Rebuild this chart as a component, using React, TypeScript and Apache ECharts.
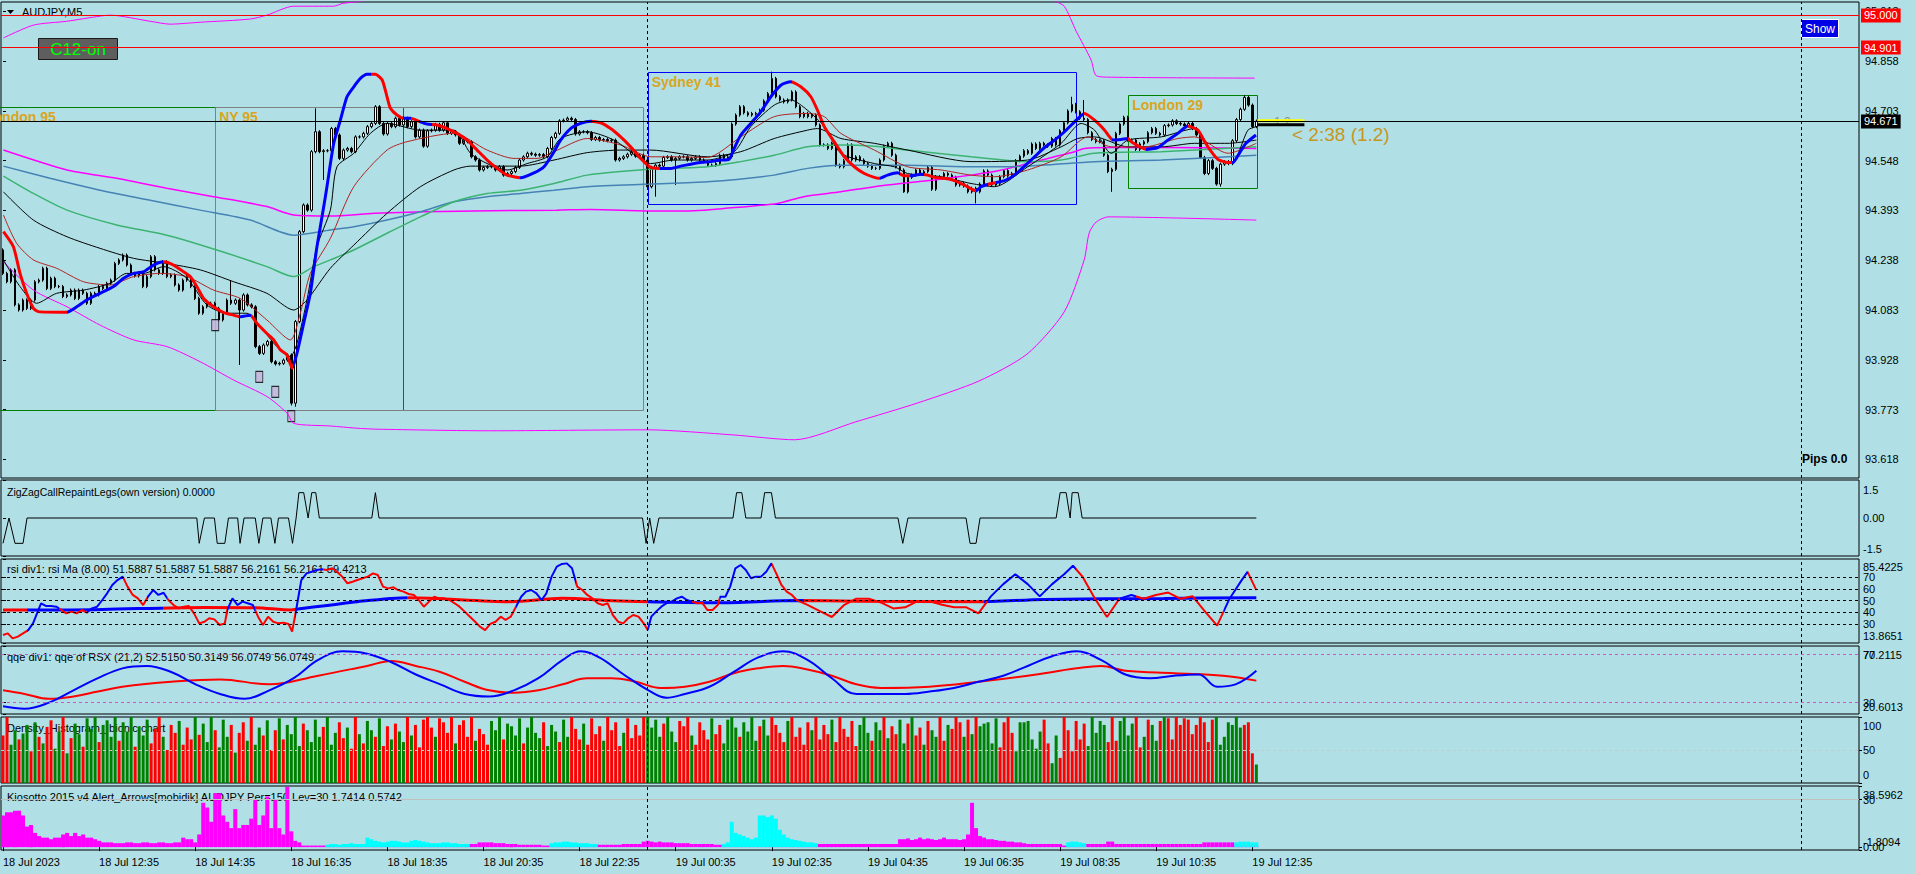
import React, { useEffect, useRef } from "react";
import * as echarts from "echarts";

const FONT = "'Liberation Sans', Arial, sans-serif";
const BG = "#B0E0E6";
const N_SLOTS = 464;
const RED = "#FF0000";
const BLUE = "#0000FF";

const timeLabels = ["18 Jul 2023", "18 Jul 12:35", "18 Jul 14:35", "18 Jul 16:35", "18 Jul 18:35", "18 Jul 20:35", "18 Jul 22:35", "19 Jul 00:35", "19 Jul 02:35", "19 Jul 04:35", "19 Jul 06:35", "19 Jul 08:35", "19 Jul 10:35", "19 Jul 12:35"];
const barsPerLabel = 24;
const daySeparators = [161, 449];
const priceTicks = [93.618, 93.773, 93.928, 94.083, 94.238, 94.393, 94.548, 94.703, 94.858, 95.013];

const firstOpen = 94.27;
const closes = [
  94.197, 94.171, 94.208, 94.099, 94.083, 94.114, 94.088, 94.114, 94.171, 94.176,
  94.213, 94.150, 94.182, 94.156, 94.156, 94.125, 94.130, 94.145, 94.119, 94.145,
  94.135, 94.104, 94.135, 94.130, 94.156, 94.150, 94.166, 94.176, 94.228, 94.239,
  94.254, 94.223, 94.197, 94.189, 94.199, 94.156, 94.187, 94.249, 94.208, 94.197,
  94.233, 94.187, 94.192, 94.161, 94.145, 94.176, 94.187, 94.156, 94.119, 94.073,
  94.093, 94.104, 94.104, 94.088, 94.052, 94.073, 94.114, 94.104, 94.114, 94.083,
  94.130, 94.099, 94.093, 93.969, 93.948, 93.974, 93.985, 93.922, 93.915, 93.917,
  93.927, 93.943, 93.793, 94.047, 94.327, 94.410, 94.394, 94.576, 94.638, 94.576,
  94.579, 94.579, 94.648, 94.628, 94.555, 94.581, 94.586, 94.576, 94.622, 94.622,
  94.633, 94.654, 94.664, 94.716, 94.664, 94.631, 94.664, 94.654, 94.680, 94.659,
  94.680, 94.654, 94.669, 94.622, 94.643, 94.593, 94.641, 94.643, 94.661, 94.643,
  94.666, 94.633, 94.638, 94.628, 94.602, 94.612, 94.607, 94.560, 94.550, 94.519,
  94.527, 94.529, 94.529, 94.519, 94.529, 94.503, 94.508, 94.514, 94.527, 94.550,
  94.560, 94.571, 94.568, 94.565, 94.567, 94.560, 94.586, 94.620, 94.633, 94.672,
  94.674, 94.680, 94.676, 94.631, 94.638, 94.638, 94.635, 94.614, 94.620, 94.612,
  94.614, 94.610, 94.612, 94.550, 94.555, 94.560, 94.568, 94.576, 94.562, 94.565,
  94.550, 94.467, 94.527, 94.534, 94.531, 94.558, 94.560, 94.550, 94.555, 94.560,
  94.560, 94.550, 94.555, 94.560, 94.550, 94.545, 94.534, 94.534, 94.539, 94.565,
  94.555, 94.560, 94.662, 94.690, 94.716, 94.697, 94.690, 94.695, 94.693, 94.705,
  94.734, 94.757, 94.804, 94.747, 94.737, 94.731, 94.737, 94.762, 94.716, 94.685,
  94.695, 94.685, 94.690, 94.659, 94.597, 94.597, 94.586, 94.602, 94.534, 94.529,
  94.548, 94.597, 94.550, 94.560, 94.550, 94.539, 94.531, 94.524, 94.524, 94.550,
  94.593, 94.602, 94.565, 94.529, 94.519, 94.451, 94.496, 94.503, 94.519, 94.508,
  94.514, 94.527, 94.459, 94.498, 94.498, 94.508, 94.503, 94.496, 94.472, 94.477,
  94.469, 94.451, 94.462, 94.451, 94.475, 94.516, 94.503, 94.472, 94.477, 94.498,
  94.517, 94.500, 94.508, 94.548, 94.562, 94.579, 94.571, 94.600, 94.586, 94.602,
  94.597, 94.593, 94.617, 94.597, 94.641, 94.666, 94.703, 94.723, 94.700, 94.680,
  94.676, 94.635, 94.614, 94.607, 94.610, 94.565, 94.514, 94.521, 94.633, 94.662,
  94.683, 94.612, 94.612, 94.583, 94.600, 94.607, 94.635, 94.648, 94.633, 94.628,
  94.657, 94.659, 94.672, 94.664, 94.662, 94.656, 94.664, 94.648, 94.628, 94.558,
  94.508, 94.548, 94.524, 94.475, 94.537, 94.545, 94.539, 94.610, 94.676, 94.708,
  94.745, 94.721, 94.654, 94.671,
];
// [bar, high, low] for bars with long shadows
const longShadows: [number, number | null, number | null][] = [
  [57, 94.176, null], [59, null, 93.912], [72, null, 93.786], [73, null, 93.782],
  [78, 94.711, null], [80, null, 94.488], [163, null, 94.436], [168, null, 94.472],
  [192, 94.825, null], [225, null, 94.448], [243, null, 94.415], [267, 94.747, null],
  [270, 94.737, null], [277, null, 94.451], [304, null, 94.467], [310, 94.752, null],
];
const shortShadow = 0.005;

const thickMA = [[0.1,94.327],[2.6,94.280],[4.25,94.197],[5.9,94.135],[7.6,94.088],[8.8,94.078],[15.9,94.076],[18.4,94.093],[20.9,94.114],[24.25,94.135],[27.6,94.156],[30.1,94.182],[32.6,94.197],[35.1,94.202],[37.6,94.223],[40.1,94.233],[42.6,94.223],[45.1,94.202],[46.75,94.187],[48.4,94.156],[50.1,94.119],[52.6,94.093],[55.1,94.075],[57.6,94.067],[59.25,94.062],[61.75,94.067],[63.4,94.042],[65.9,94.010],[67.6,93.990],[69.25,93.959],[70.9,93.943],[72.2,93.902],[73.4,93.948],[75.1,94.042],[76.75,94.135],[78.4,94.280],[80.1,94.405],[80.9,94.467],[82.6,94.602],[84.25,94.674],[85.9,94.747],[87.6,94.778],[89.25,94.804],[90.9,94.817],[93.0,94.817],[94.7,94.799],[95.9,94.747],[96.75,94.711],[98.4,94.690],[100.1,94.680],[101.75,94.680],[104.25,94.669],[105.9,94.662],[108.4,94.659],[110.9,94.648],[113.4,94.633],[115.9,94.612],[118.4,94.581],[120.9,94.550],[123.4,94.524],[125.9,94.503],[129.25,94.495],[132.6,94.510],[135.1,94.529],[137.6,94.576],[139.25,94.612],[141.75,94.648],[144.25,94.664],[146.75,94.671],[149.25,94.666],[151.75,94.648],[154.25,94.622],[156.75,94.591],[159.25,94.555],[161.75,94.527],[164.25,94.524],[166.75,94.524],[169.25,94.531],[171.75,94.537],[174.25,94.542],[176.75,94.545],[179.25,94.550],[181.3,94.552],[182.6,94.586],[184.25,94.628],[186.75,94.664],[189.25,94.700],[191.75,94.747],[194.25,94.783],[196.75,94.794],[199.25,94.778],[201.75,94.747],[203.4,94.705],[205.1,94.654],[206.75,94.622],[208.4,94.591],[210.1,94.560],[212.6,94.529],[215.1,94.508],[217.6,94.496],[218.8,94.493],[220.9,94.503],[223.4,94.510],[225.1,94.501],[226.75,94.501],[229.25,94.506],[230.9,94.503],[232.6,94.496],[235.1,94.493],[237.6,94.486],[240.1,94.472],[243.0,94.454],[244.25,94.467],[246.75,94.477],[250.1,94.486],[252.6,94.503],[255.1,94.531],[257.6,94.560],[260.1,94.589],[262.6,94.612],[265.1,94.638],[267.6,94.669],[270.1,94.695],[272.6,94.674],[275.1,94.643],[277.2,94.612],[279.25,94.614],[280.9,94.617],[281.75,94.607],[284.25,94.589],[285.5,94.583],[288.4,94.589],[290.9,94.612],[293.4,94.633],[295.9,94.656],[298.4,94.643],[300.1,94.607],[301.75,94.576],[303.4,94.552],[305.9,94.542],[307.1,94.542],[308.75,94.571],[310.4,94.602],[312.9,94.628]];
const thickTrend: [number, number, string][] = [[-5,16,"dn"],[16,40,"up"],[40,59,"dn"],[59,62,"up"],[62,72.5,"dn"],[72.5,92,"up"],[92,100,"dn"],[100,102,"up"],[102,104,"dn"],[104,107,"up"],[107,129,"dn"],[129,147,"up"],[147,164,"dn"],[164,197,"up"],[197,219,"dn"],[219,224,"up"],[224,226.5,"dn"],[226.5,230,"up"],[230,243,"dn"],[243,246,"up"],[246,248,"dn"],[248,270,"up"],[270,277,"dn"],[277,281,"up"],[281,285.5,"dn"],[285.5,296,"up"],[296,307,"dn"],[307,330,"up"]];

const blackFast = [[0.1,94.239],[4.25,94.156],[8.4,94.104],[13.4,94.135],[20.1,94.145],[26.75,94.166],[30.9,94.197],[35.1,94.197],[40.1,94.218],[45.9,94.182],[50.9,94.099],[55.9,94.073],[60.9,94.073],[64.25,94.031],[68.4,93.969],[71.75,93.938],[73.4,93.979],[75.9,94.114],[78.4,94.280],[81.75,94.394],[83.4,94.529],[87.6,94.571],[91.75,94.633],[95.9,94.664],[104.25,94.643],[112.6,94.643],[116.75,94.571],[120.9,94.539],[125.9,94.519],[130.9,94.539],[135.9,94.560],[139.25,94.617],[145.9,94.638],[152.6,94.612],[158.4,94.560],[161.75,94.539],[167.6,94.550],[175.9,94.550],[182.6,94.576],[186.75,94.654],[192.6,94.721],[196.75,94.737],[200.9,94.705],[205.1,94.654],[209.25,94.571],[217.6,94.539],[222.6,94.529],[225.9,94.508],[234.25,94.498],[241.75,94.477],[247.6,94.467],[255.9,94.529],[264.25,94.602],[269.25,94.664],[272.6,94.643],[276.75,94.571],[280.9,94.612],[289.25,94.622],[297.6,94.648],[302.6,94.560],[306.75,94.539],[310.9,94.643],[313,94.654]];
const darkRedMA = [[0.1,94.379],[3.4,94.291],[7.6,94.239],[13.4,94.213],[20.1,94.171],[26.75,94.161],[32.6,94.187],[39.25,94.197],[45.9,94.187],[52.6,94.145],[59.25,94.119],[65.9,94.052],[71.75,93.990],[74.25,94.073],[76.75,94.197],[81.75,94.306],[87.6,94.467],[95.9,94.581],[100.9,94.607],[112.6,94.633],[120.9,94.581],[127.6,94.555],[133.4,94.555],[137.6,94.576],[145.9,94.617],[154.25,94.597],[161.75,94.560],[167.6,94.560],[175.9,94.558],[184.25,94.622],[192.6,94.685],[200.9,94.695],[205.1,94.685],[209.25,94.633],[217.6,94.581],[225.9,94.529],[234.25,94.519],[241.75,94.503],[247.6,94.498],[255.9,94.519],[264.25,94.560],[270.9,94.622],[276.75,94.591],[285.1,94.591],[293.4,94.617],[297.6,94.622],[305.9,94.571],[313,94.602]];
const blackSlow = [[0.1,94.451],[7.6,94.363],[16,94.311],[24.25,94.275],[32.6,94.244],[40.9,94.228],[49.25,94.208],[57.6,94.171],[65.9,94.135],[72.6,94.083],[75.9,94.114],[81.75,94.213],[87.6,94.285],[95.9,94.384],[104.25,94.467],[112.6,94.519],[116.75,94.531],[129.25,94.531],[137.6,94.550],[145.9,94.573],[154.25,94.581],[161.75,94.581],[175.9,94.560],[184.25,94.576],[192.6,94.617],[200.9,94.643],[203.4,94.648],[209.25,94.617],[217.6,94.602],[225.9,94.581],[241.75,94.545],[255.9,94.550],[264.25,94.591],[268.4,94.617],[272.6,94.622],[280.9,94.591],[289.25,94.591],[297.6,94.602],[305.9,94.602],[313,94.612]];
const greenMA = [[0.1,94.500],[7.6,94.446],[16,94.394],[28.4,94.348],[40.9,94.316],[53.4,94.270],[65.9,94.218],[72.6,94.187],[77.6,94.218],[81.75,94.239],[87.6,94.270],[95.9,94.322],[104.25,94.373],[112.6,94.420],[120.9,94.446],[129.25,94.456],[137.6,94.477],[145.9,94.503],[161.75,94.521],[175.9,94.529],[184.25,94.545],[192.6,94.565],[200.9,94.591],[209.25,94.597],[217.6,94.593],[225.9,94.581],[241.75,94.560],[255.9,94.545],[264.25,94.550],[272.6,94.571],[289.25,94.576],[313,94.591]];
const steelMA = [[0.1,94.531],[11.75,94.493],[24.25,94.456],[36.75,94.425],[49.25,94.394],[61.75,94.363],[72.6,94.316],[81.75,94.332],[87.6,94.342],[95.9,94.363],[104.25,94.389],[112.6,94.420],[120.9,94.436],[129.25,94.446],[137.6,94.456],[145.9,94.467],[161.75,94.475],[175.9,94.482],[192.6,94.503],[200.9,94.524],[209.25,94.534],[225.9,94.534],[241.75,94.529],[255.9,94.531],[272.6,94.545],[289.25,94.550],[313,94.565]];
const bandMid = [[0.1,94.581],[16,94.519],[28.4,94.493],[40.9,94.462],[52.6,94.436],[65.9,94.405],[72.6,94.379],[81.75,94.376],[92.75,94.384],[105.25,94.389],[121.9,94.392],[138.25,94.394],[146.75,94.396],[162.5,94.391],[172.6,94.392],[180,94.399],[193.4,94.415],[200,94.436],[209.25,94.451],[217.6,94.467],[224.25,94.477],[232.6,94.488],[241.75,94.503],[247.6,94.514],[255.9,94.539],[262.6,94.560],[267.6,94.576],[270.1,94.586],[276.75,94.589],[289.25,94.589],[313,94.586]];
const bandUpper = [[0.1,94.930],[7.6,94.970],[15.9,94.982],[24.25,94.998],[26.75,95.001],[36.75,94.982],[41.75,94.973],[49.25,94.979],[61.75,94.989],[65.9,95.001],[72.6,95.029],[82.6,95.029],[85,95.038],[110,95.07],[160,95.10],[220,95.12],[255,95.09],[262,95.048],[265,95.029],[268,94.951],[271.75,94.861],[272.9,94.814],[275.9,94.808],[312.6,94.805]];
const bandLower = [[0.1,94.233],[7.6,94.145],[16,94.093],[24.25,94.036],[32.6,93.990],[41,93.969],[49.25,93.922],[57.6,93.865],[66,93.813],[71,93.761],[72.6,93.730],[81.75,93.722],[88.4,93.715],[93.4,93.712],[121.5,93.707],[161,93.710],[182.5,93.694],[197.75,93.679],[213,93.735],[228.5,93.794],[243.75,93.862],[255.75,93.946],[265,94.077],[270,94.239],[271.25,94.323],[273,94.357],[276,94.373],[313,94.363]];

const signalMarkers = [[53, 94.036], [64, 93.875], [68, 93.828], [72, 93.753]];

const sessions = [
  { name: "London 95", start: -5.5, end: 100, high: 94.716, low: 93.772, color: "#008000" },
  { name: "NY 95", start: 53, end: 160, high: 94.716, low: 93.772, color: "#808080" },
  { name: "Sydney 41", start: 161, end: 268, high: 94.825, low: 94.415, color: "#0000FF" },
  { name: "London 29", start: 281, end: 313.25, high: 94.751, low: 94.462, color: "#008000" },
];
const priceLines = [
  { price: 95.0, color: "#FF0000" },
  { price: 94.901, color: "#FF0000" },
  { price: 94.671, color: "#000000" },
];
const spreadLevels = [{ price: 94.672, color: "#FFFF00" }, { price: 94.660, color: "#000000" }];
const spreadFrom = 313.25, spreadTo = 325;

// ZigZag legs
const zigzag = [[0,-1],[1.5,0],[3,-1],[5,-1],[6,0],[48.4,0],[49,-1],[50.3,0],[52.8,0],[53.5,-1],[55.4,-1],[56.3,0],[58.6,0],[59.2,-1],[60.2,0],[63,0],[63.9,-1],[64.9,0],[66.9,0],[67.9,-1],[68.8,0],[71.3,0],[72.3,-1],[73.2,0],[73.9,1],[75.1,1],[76.2,0],[77.1,1],[78.1,1],[79,0],[92.1,0],[93,1],[93.9,0],[159.7,0],[160.6,-1],[161.5,0],[162.5,-1],[163.8,0],[182.3,0],[183.2,1],[184.5,1],[185.5,0],[189.3,0],[190.2,1],[191.9,1],[192.9,0],[223.5,0],[224.7,-1],[226,0],[240.5,0],[241.5,-1],[243,-1],[244,0],[263,0],[264,1],[265.5,1],[266.5,0],[267,1],[268.5,1],[269.5,0],[313,0]];

// RSI
const rsiFast = [[0,20.7],[1.2,22.1],[2.4,17.8],[3.7,19.3],[5,22.1],[6.3,24.9],[7.5,30.6],[9.5,47.7],[10.7,45.4],[12,45.4],[13.3,44.8],[14.6,42.0],[15.8,39.1],[17.1,40.6],[18.4,39.1],[19.7,42.0],[20.9,39.7],[22.2,43.4],[23.5,44.8],[24.8,50.5],[26,56.2],[27.3,63.3],[28.6,67.5],[29.9,70.4],[31.1,61.9],[32.4,54.8],[33.7,51.9],[35,46.2],[36.2,53.3],[37.5,59.0],[38.8,54.8],[40.1,56.7],[41.3,50.5],[42.6,46.2],[43.9,43.4],[45.2,44.8],[46.4,45.4],[47.7,39.1],[49,30.6],[50.3,32.0],[51.5,34.9],[52.8,34.0],[54.1,29.2],[55.4,30.6],[56,42.0],[57.3,51.9],[58.6,46.2],[59.8,49.1],[61.1,47.7],[62.4,46.2],[63.7,36.3],[64.9,29.2],[66.2,36.3],[67.5,32.0],[68.8,30.6],[70,31.2],[71.3,30.1],[72.2,23.5],[73.2,42.0],[74.5,67.5],[75.8,73.2],[77.1,74.6],[78.3,76.1],[79.6,76.6],[80.9,76.1],[82.2,77.5],[83.4,74.6],[84.7,70.4],[86,64.7],[87.3,66.1],[88.5,67.5],[89.8,69.0],[91.1,70.4],[92.4,73.2],[93.6,71.8],[94.9,61.9],[96.2,60.4],[97.5,61.3],[98.7,59.0],[100,57.6],[101.3,55.6],[102.6,54.8],[103.8,50.5],[105.1,44.8],[106.4,49.1],[107.7,53.3],[108.9,51.9],[110.2,51.9],[111.5,50.5],[112.8,47.7],[114,44.8],[115.3,40.6],[116.6,36.3],[117.9,32.0],[119.1,27.8],[120.4,24.9],[121.7,30.1],[123,32.0],[124.3,36.3],[125.5,33.5],[126.8,36.3],[128.1,44.8],[129.4,53.3],[130.6,57.6],[131.9,59.0],[133.2,56.2],[134.5,50.5],[135.7,56.2],[137,70.4],[138.3,78.9],[139.6,81.2],[140.8,81.7],[142.1,77.5],[143.4,61.9],[144.7,59.0],[145.9,54.8],[147.2,51.9],[148.5,47.7],[149.8,46.2],[151,47.7],[152.3,37.7],[153.6,32.0],[154.9,30.6],[156.1,34.9],[157.4,37.7],[158.7,36.3],[160,30.6],[161,24.9],[161.9,36.3],[163.1,40.6],[164.4,44.8],[165.7,47.7],[167,49.1],[168.3,51.9],[169.5,53.3],[170.8,50.5],[172.1,49.1],[173.4,47.7],[174.6,48.2],[175.9,42.0],[177.2,42.0],[178.5,46.2],[179.1,53.3],[180.4,53.3],[181.6,61.9],[182.9,77.5],[184.2,80.3],[185.5,76.1],[186.8,69.0],[188,70.4],[189.3,70.4],[190.6,74.6],[191.9,81.7],[193.1,73.2],[194.4,63.3],[195.7,57.6],[197,54.8],[198.2,50.5],[200.9,46.4],[204,41.1],[207,36.0],[210.1,46.4],[213.1,51.6],[216.2,51.6],[219.2,48.4],[222.3,43.3],[225.3,44.3],[228.4,49.5],[231.4,49.5],[234.5,46.4],[237.5,44.3],[240.6,44.3],[243.6,39.1],[246.7,53.6],[249.8,64.0],[252.8,72.4],[255.9,64.0],[258.9,53.6],[262,64.0],[265,72.4],[267.2,79.7],[269.6,70.3],[272.7,51.6],[275.7,36.0],[278.8,51.6],[281.8,54.7],[284.9,51.6],[287.9,54.7],[291,56.8],[294,51.6],[297.1,53.6],[300.1,41.1],[303.2,28.7],[306.3,51.6],[309.3,67.2],[310.8,74.5],[313,58.9]];
const rsiFastTrend: [number, number, string][] = [[-5,6,"dn"],[6,14,"up"],[14,21,"dn"],[21,30,"up"],[30,36,"dn"],[36,41,"up"],[41,56,"dn"],[56,63,"up"],[63,73,"dn"],[73,80,"up"],[80,128,"dn"],[128,143,"up"],[143,161,"dn"],[161,172,"up"],[172,179,"dn"],[179,192,"up"],[192,246,"dn"],[246,268,"up"],[268,279,"dn"],[279,283,"up"],[283,305,"dn"],[305,311,"up"],[311,330,"dn"]];
const rsiSlow = [[0,42.0],[12,42.0],[24.8,42.5],[50.3,44.2],[63,44.0],[72,42.0],[73.2,42.5],[88.5,49.1],[101.3,52.5],[126.8,49.1],[139.6,51.9],[152.3,49.9],[161,49.1],[178.5,48.2],[198.2,50.0],[213,49.5],[243,49.0],[260,51.0],[290,51.8],[313,52.5]];
const rsiSlowTrend: [number, number, string][] = [[-5,6,"dn"],[6,40,"up"],[40,73,"dn"],[73,101,"up"],[101,161,"dn"],[161,200,"up"],[200,245,"dn"],[245,330,"up"]];
const rsiLevels = [70, 60, 50, 40, 30];
const rsiRange = [13.8651, 85.4225];

// QQE
const qqeFast = [[0,27.0],[5.4,25.0],[11.5,30.1],[17.6,40.3],[23.7,50.4],[29.8,58.6],[35.9,60.6],[42,55.6],[48.1,45.3],[54.2,37.3],[60.3,33.2],[66.5,40.3],[72.6,50.4],[78.7,65.7],[84.8,72.8],[90.9,70.8],[97,63.7],[103.1,53.5],[109.2,45.3],[115.3,37.3],[121.4,35.2],[127.6,40.3],[133.7,50.4],[139.8,65.7],[144.3,72.8],[148.9,67.7],[155,53.5],[161.2,40.3],[165.7,34.2],[170.3,37.3],[176.4,43.3],[182.5,55.6],[188.6,67.7],[194.8,72.8],[200.9,65.7],[207,50.4],[213.1,37.3],[219.2,37.3],[225.3,37.3],[231.4,39.3],[237.5,42.3],[243.6,47.4],[249.8,52.5],[255.9,60.6],[262,68.7],[268.1,72.8],[274.2,65.7],[280.3,53.5],[286.4,50.4],[292.5,52.5],[298.6,53.5],[303.2,43.3],[307.8,45.3],[313,56.6]];
const qqeSlow = [[0,40.3],[5.4,37.3],[11.5,33.2],[17.6,35.2],[23.7,39.3],[29.8,43.3],[42,47.4],[54.2,49.4],[66.5,45.3],[78.7,52.5],[90.9,60.6],[97,64.7],[103.1,60.6],[109.2,55.6],[115.3,47.4],[121.4,40.3],[127.6,38.3],[133.7,40.3],[139.8,45.3],[145.9,50.4],[152,50.4],[158.1,47.4],[164.2,42.3],[170.3,43.3],[176.4,47.4],[182.5,54.5],[188.6,58.6],[194.8,60.6],[200.9,57.6],[207,52.5],[213.1,45.3],[219.2,42.3],[231.4,43.3],[243.6,47.4],[255.9,52.5],[268.1,58.6],[274.2,60.6],[280.3,56.6],[292.5,54.5],[304.7,52.5],[313,48.4]];
const qqeLevels = [70, 30];
const qqeRange = [20.6013, 77.2115];

// Density histogram: height (0..100) and colour (1 green, 0 red) per bar
const densityValues = [
  72, 100, 58, 80, 66, 75, 88, 48, 92, 70,
  60, 85, 95, 52, 78, 100, 45, 68, 90, 74,
  55, 98, 82, 100, 62, 88, 95, 70, 100, 64,
  92, 78, 100, 55, 86, 72, 96, 60, 82, 100,
  70, 50, 88, 76, 94, 58, 84, 66, 100, 73,
  90, 62, 100, 80, 54, 96, 70, 88, 46, 76,
  92, 64, 100, 58, 84, 72, 95, 50, 80, 98,
  66, 88, 74, 100, 56, 90, 80, 62, 96, 70,
  85, 100, 58, 76, 92, 68, 84, 52, 100, 74,
  60, 94, 80, 70, 98, 56, 86, 66, 90, 78,
  62, 100, 72, 88, 54, 96, 100, 84, 70, 98,
  92, 76, 100, 60, 88, 95, 70, 100, 64, 82,
  74, 58, 94, 80, 100, 66, 90, 86, 72, 98,
  60, 84, 100, 76, 68, 92, 56, 88, 78, 62,
  96, 70, 100, 82, 66, 90, 58, 98, 74, 86,
  64, 100, 80, 92, 56, 76, 98, 68, 88, 72,
  100, 100, 84, 96, 70, 90, 100, 78, 62, 94,
  86, 100, 72, 58, 92, 80, 66, 98, 74, 88,
  60, 96, 100, 84, 70, 92, 78, 100, 64, 86,
  96, 72, 100, 88, 76, 62, 94, 100, 70, 84,
  58, 92, 80, 100, 66, 88, 74, 96, 62, 100,
  82, 70, 94, 56, 88, 100, 76, 64, 92, 80,
  100, 68, 86, 74, 96, 60, 90, 100, 72, 84,
  58, 94, 80, 70, 100, 64, 88, 82, 100, 92,
  70, 96, 74, 100, 86, 90, 92, 60, 98, 54,
  92, 100, 76, 48, 92, 92, 94, 66, 52, 78,
  96, 60, 30, 72, 38, 100, 80, 48, 94, 66,
  90, 56, 100, 76, 94, 88, 62, 100, 64, 94,
  100, 72, 90, 100, 54, 70, 96, 88, 64, 94,
  100, 98, 66, 100, 88, 98, 96, 74, 88, 100,
  92, 62, 96, 100, 58, 70, 92, 88, 100, 84,
  88, 92, 45, 28,
];
const densityUp = [
  0, 0, 1, 1, 0, 1, 1, 0, 1, 0,
  1, 0, 0, 1, 1, 0, 1, 0, 1, 1,
  0, 1, 1, 1, 0, 1, 1, 1, 1, 0,
  1, 1, 1, 0, 1, 1, 1, 0, 0, 0,
  1, 0, 0, 0, 1, 0, 0, 0, 1, 0,
  1, 1, 1, 0, 1, 1, 1, 0, 1, 0,
  0, 1, 0, 1, 1, 0, 1, 0, 0, 1,
  0, 1, 1, 1, 1, 0, 1, 1, 1, 1,
  0, 1, 1, 1, 0, 0, 1, 0, 0, 1,
  0, 1, 1, 0, 1, 0, 0, 1, 0, 1,
  1, 0, 1, 0, 0, 0, 0, 0, 1, 0,
  0, 0, 0, 1, 0, 0, 0, 0, 1, 0,
  0, 0, 1, 1, 1, 0, 1, 1, 1, 1,
  0, 1, 1, 1, 1, 0, 1, 1, 1, 0,
  1, 1, 0, 0, 0, 1, 0, 0, 0, 0,
  1, 0, 0, 0, 0, 1, 0, 0, 0, 0,
  0, 1, 1, 1, 1, 0, 1, 1, 1, 0,
  0, 0, 1, 0, 0, 0, 0, 1, 0, 0,
  1, 1, 1, 1, 0, 1, 1, 1, 1, 0,
  1, 1, 0, 0, 0, 0, 1, 0, 0, 0,
  0, 0, 1, 0, 0, 0, 0, 1, 0, 0,
  0, 0, 0, 0, 1, 1, 1, 0, 1, 1,
  0, 1, 0, 0, 1, 1, 0, 1, 0, 0,
  1, 0, 1, 1, 0, 0, 1, 0, 0, 0,
  1, 0, 1, 0, 1, 1, 1, 1, 1, 0,
  0, 0, 0, 1, 1, 1, 1, 1, 1, 1,
  0, 0, 1, 1, 0, 0, 0, 0, 0, 0,
  0, 1, 1, 1, 1, 1, 0, 0, 0, 1,
  1, 1, 1, 0, 0, 1, 0, 1, 1, 0,
  1, 0, 0, 0, 0, 0, 0, 0, 0, 0,
  0, 0, 0, 1, 1, 1, 1, 1, 1, 1,
  0, 0, 0, 1,
];

// Kiosotto histograms
const kioMagenta = [
  20, 22, 22, 23, 23, 20, 13, 14, 9, 7,
  6, 6, 5, 6, 6, 8, 9, 7, 9, 7,
  8, 6, 6, 5, 4, 3, 3, 3, 2.5, 2.5,
  2.5, 3, 3, 2.5, 2.5, 3, 3, 2.5, 2.5, 3,
  3, 2.5, 2.5, 3, 3, 6, 5, 5, 3, 8,
  28, 25, 16, 34, 34, 20, 16, 12, 24, 12,
  14, 14, 18, 30, 14, 20, 32, 12, 30, 12,
  8, 38, 10, 4, 3, 1, 1, 1, 1, 1,
  1, 1, 1, 1, 1, 1, 1, 1, 1, 1,
  1, 1, 1, 1, 1, 1, 1, 1, 1, 1,
  1.5, 1.5, 1.5, 1.5, 1.5, 1.5, 1.5, 1.5, 1.5, 1.5,
  1.5, 1.5, 1.5, 1.5, 1.5, 1.5, 1.5, 2, 2, 3,
  3, 3, 3, 2.5, 2.5, 2.5, 2, 2, 2, 1.5,
  1.5, 1.5, 1.5, 1.5, 1.5, 1, 1, 1, 1, 1,
  1, 1, 1, 1, 1, 1, 1, 1, 1.5, 1.5,
  1.5, 1.5, 1.5, 1.5, 1.5, 2, 2, 2, 2, 2,
  3.5, 4, 3.5, 3, 3.5, 3, 3, 3, 2.5, 2.5,
  2.5, 2.5, 2, 2, 2, 2, 2, 2, 1.5, 1.5,
  1, 1, 1, 1, 1, 1, 1, 1, 1, 1,
  1, 1, 1, 1, 1, 1, 1, 1, 1, 1,
  1, 1, 1, 1, 2, 2, 2, 2, 2, 2,
  2, 2, 2, 2, 2, 2, 2, 2, 2, 2,
  2, 2, 2, 2, 5, 5, 5.5, 4.5, 5, 6,
  5, 5.5, 5, 4.5, 5, 6, 5, 5, 5, 4.5,
  5, 8, 28, 12, 7, 6, 5, 5, 4.5, 4,
  4, 3.5, 3.5, 3, 3, 2.5, 2, 2, 2, 2,
  2, 2, 2, 2, 2, 1, 1, 1, 1, 1,
  2, 2, 2, 2, 2, 2, 3.5, 3.5, 2, 2,
  2, 2, 2, 2, 2, 2, 2, 2, 2, 2,
  2, 2, 2, 2, 2, 2, 2, 2, 2, 2,
  3, 3, 3, 3, 3, 3, 3, 3, 1, 1,
  1, 1, 1, 1,
];
// [first bar, values...] runs of the cyan histogram
const kioCyanRuns: [number, number[]][] = [
  [81, [1.5, 2, 2, 1.5, 2, 2, 2.5, 2, 2, 2]],
  [91, [6, 5, 4, 3.5]],
  [95, [3, 3.5, 4, 4, 3.5, 3, 3, 4, 4.5, 4, 3.5, 3, 2.5, 2.5, 2.5, 3, 3, 2.5, 2.5, 2, 2, 2]],
  [137, [2.5, 3, 3, 3.5, 3.5, 3, 3, 2.5, 2.5, 2.5, 2, 2]],
  [180, [2, 3, 16, 9, 8, 7, 6, 5, 6, 20, 20, 19, 20, 18, 11, 8, 6, 5, 4.5, 4, 3.5, 3, 3, 2.5]],
  [266, [3, 3.5, 3.5, 3, 2.5]],
  [308, [3, 3.5, 3.5, 3.5, 3, 3]],
];
const kioRange = [-1.8094, 38.5962];
const kioLevels = [0, 30];

function buildCandles() {
  const out: number[][] = [];
  for (let i = 0; i < closes.length; i++) {
    const o = i === 0 ? firstOpen : closes[i - 1];
    const c = closes[i];
    let h = Math.max(o, c) + shortShadow;
    let l = Math.min(o, c) - shortShadow;
    const s = longShadows.find((x) => x[0] === i);
    if (s) {
      if (s[1] != null) h = s[1];
      if (s[2] != null) l = s[2];
    }
    out.push([o, c, l, h]);
  }
  return out;
}

function cyanPerBar() {
  const arr: (number | null)[] = closes.map(() => null);
  kioCyanRuns.forEach(([start, vals]) => vals.forEach((v, k) => { arr[start + k] = v; }));
  return arr;
}

function pieces(tr: [number, number, string][], up: string, dn: string) {
  return tr.map(([a, b, d]) => ({ gte: a, lt: b, color: d === "up" ? up : dn }));
}

function buildOption() {
  const grids = [
    { top: 2, height: 476 },
    { top: 480, height: 76 },
    { top: 559, height: 84 },
    { top: 646, height: 68 },
    { top: 717, height: 66 },
    { top: 786, height: 64 },
  ].map((g) => ({ left: 1, width: 1858, top: g.top, height: g.height, show: true, borderColor: "#000", borderWidth: 1, backgroundColor: "transparent" }));

  const slots = Array.from({ length: N_SLOTS }, (_, i) => String(i));
  const hidden = { axisLine: { show: false }, axisTick: { show: false }, axisLabel: { show: false }, splitLine: { show: false } };
  const showLabelAt = (i: number) => i % barsPerLabel === 0 && i / barsPerLabel < timeLabels.length;

  const xAxis: any[] = [
    { type: "category", gridIndex: 0, data: slots, boundaryGap: true, ...hidden },
    { type: "value", gridIndex: 0, min: -0.5, max: N_SLOTS - 0.5, ...hidden },
    { type: "value", gridIndex: 1, min: -0.5, max: N_SLOTS - 0.5, ...hidden },
    { type: "value", gridIndex: 2, min: -0.5, max: N_SLOTS - 0.5, ...hidden },
    { type: "value", gridIndex: 3, min: -0.5, max: N_SLOTS - 0.5, ...hidden },
    { type: "category", gridIndex: 4, data: slots, boundaryGap: true, ...hidden },
    {
      type: "category", gridIndex: 5, data: slots, boundaryGap: true,
      axisLine: { show: false }, splitLine: { show: false },
      axisTick: { show: true, alignWithLabel: true, interval: (i: number) => showLabelAt(i), length: 4, lineStyle: { color: "#000" } },
      axisLabel: {
        show: true, interval: (i: number) => showLabelAt(i), align: "left", margin: 6,
        formatter: (_v: string, i: number) => (showLabelAt(i) ? timeLabels[i / barsPerLabel] : ""),
        color: "#000", fontFamily: FONT, fontSize: 11,
      },
    },
  ];

  const lbl = { color: "#000", fontFamily: FONT, fontSize: 11 };
  const edgeRich = (topPad: number, botPad: number) => ({
    t: { ...lbl, padding: [topPad, 0, 0, 0] },
    b: { ...lbl, padding: [0, 0, botPad, 0] },
    m: { ...lbl },
  });
  const subY = (gridIndex: number, min: number, max: number, values: number[], fmt: (v: number) => string, topPad: number, botPad: number) => ({
    type: "value", gridIndex, min, max, position: "right", offset: 0,
    axisLine: { show: false }, splitLine: { show: false },
    axisTick: { show: true, customValues: values, length: 3, lineStyle: { color: "#000" } },
    axisLabel: {
      show: true, customValues: values, margin: 4, showMinLabel: true, showMaxLabel: true, hideOverlap: false, ...lbl,
      formatter: (v: number) => {
        const s = fmt(v);
        if (Math.abs(v - max) < 1e-9) return "{t|" + s + "}";
        if (Math.abs(v - min) < 1e-9) return "{b|" + s + "}";
        return "{m|" + s + "}";
      },
      rich: edgeRich(topPad, botPad),
    },
  });

  const yAxis: any[] = [
    {
      type: "value", gridIndex: 0, min: 93.56, max: 95.042, position: "right", scale: true,
      axisLine: { show: false }, splitLine: { show: false },
      axisTick: { show: true, customValues: priceTicks, length: 3, lineStyle: { color: "#000" } },
      axisLabel: { show: true, customValues: priceTicks, margin: 6, showMinLabel: true, showMaxLabel: true, ...lbl, formatter: (v: number) => v.toFixed(3) },
    },
    subY(1, -1.5, 1.5, [-1.5, 0, 1.5], (v) => (v === 0 ? "0.00" : String(v)), 20, 14),
    subY(2, rsiRange[0], rsiRange[1], [rsiRange[0], ...rsiLevels, rsiRange[1]], (v) => (v === rsiRange[0] || v === rsiRange[1] ? v.toFixed(4) : String(v)), 16, 14),
    subY(3, qqeRange[0], qqeRange[1], [qqeRange[0], ...qqeLevels, qqeRange[1]], (v) => (v === qqeRange[0] || v === qqeRange[1] ? v.toFixed(4) : String(v)), 18, 14),
    subY(4, 0, 100, [0, 50, 100], (v) => String(v), 18, 16),
    subY(5, kioRange[0], kioRange[1], [kioRange[0], kioRange[1]], (v) => v.toFixed(4), 18, 16),
    // second label set of the Kiosotto window (levels), drawn on the same edge
    subY(5, kioRange[0], kioRange[1], kioLevels, (v) => (v === 0 ? "0.00" : String(v)), 18, 16),
  ];

  const sepLine = { color: "#000", type: [3, 3], width: 1 };
  const daySep = (onCategory: boolean) => ({
    symbol: "none", silent: true, label: { show: false }, lineStyle: sepLine,
    data: daySeparators.map((d) => ({ xAxis: onCategory ? String(d) : d })),
  });

  const overlay = (data: number[][], color: string, width: number, extra: any = {}) => ({
    type: "line", xAxisIndex: 1, yAxisIndex: 0, data, showSymbol: false, symbol: "none",
    smooth: 0.25, silent: true, lineStyle: { color, width }, itemStyle: { color }, ...extra,
  });

  const series: any[] = [];
  // session boxes
  series.push({
    type: "custom", xAxisIndex: 1, yAxisIndex: 0, silent: true, z: 1,
    data: sessions.map((s) => [s.start, s.end, s.high, s.low]),
    renderItem: (params: any, api: any) => {
      const s = sessions[params.dataIndex];
      const p1 = api.coord([api.value(0), api.value(2)]);
      const p2 = api.coord([api.value(1), api.value(3)]);
      return {
        type: "group",
        children: [
          { type: "rect", shape: { x: Math.round(p1[0]) + 0.5, y: Math.round(p1[1]) + 0.5, width: Math.round(p2[0] - p1[0]), height: Math.round(p2[1] - p1[1]) }, style: { fill: "none", stroke: s.color, lineWidth: 1 } },
          { type: "text", x: p1[0] + 4, y: p1[1] + 3, style: { text: s.name, fill: "#DAA520", font: "bold 14px 'Liberation Sans', Arial, sans-serif", verticalAlign: "top" } },
        ],
      };
    },
  });
  // candles
  series.push({
    type: "candlestick", xAxisIndex: 0, yAxisIndex: 0, data: buildCandles(), barWidth: 2, silent: true,
    itemStyle: { color: "#FFFFFF", color0: "#000000", borderColor: "#000000", borderColor0: "#000000", borderWidth: 1 },
    markLine: {
      symbol: "none", silent: true,
      data: priceLines.map((p) => ({
        yAxis: p.price,
        lineStyle: { color: p.color, width: 1, type: "solid" },
        label: { show: true, position: "end", distance: 2, formatter: p.price.toFixed(3), color: "#FFFFFF", backgroundColor: p.color, padding: [2, 3, 1, 3], fontFamily: FONT, fontSize: 11 },
      })),
    },
  });
  series.push(overlay(bandUpper, "#FF00FF", 1));
  series.push(overlay(bandLower, "#FF00FF", 1));
  series.push(overlay(bandMid, "#FF00FF", 1.5, { markLine: daySep(false) }));
  series.push(overlay(steelMA, "#4682B4", 1.5));
  series.push(overlay(greenMA, "#3CB371", 1.5));
  series.push(overlay(blackSlow, "#000000", 1));
  series.push(overlay(darkRedMA, "#B22222", 1));
  series.push(overlay(blackFast, "#000000", 1));
  const thickIdx = series.length;
  series.push({
    type: "line", xAxisIndex: 1, yAxisIndex: 0, data: thickMA, showSymbol: false, symbol: "none",
    smooth: 0.2, silent: true, lineStyle: { width: 3 },
  });
  series.push({
    type: "scatter", xAxisIndex: 1, yAxisIndex: 0, data: signalMarkers, symbol: "rect", symbolSize: [7, 11], silent: true,
    itemStyle: { color: "#C9B3DD", borderColor: "#000", borderWidth: 1 },
  });
  spreadLevels.forEach((s) => {
    series.push({
      type: "line", xAxisIndex: 1, yAxisIndex: 0, data: [[spreadFrom, s.price], [spreadTo, s.price]], showSymbol: false, symbol: "none", silent: true,
      lineStyle: { color: s.color, width: 3 },
    });
  });

  // zigzag
  series.push({
    type: "line", xAxisIndex: 2, yAxisIndex: 1, data: zigzag, showSymbol: false, symbol: "none", silent: true,
    lineStyle: { color: "#000", width: 1 }, markLine: daySep(false),
  });
  // rsi
  const rsiSlowIdx = series.length;
  series.push({
    type: "line", xAxisIndex: 3, yAxisIndex: 2, data: rsiSlow, showSymbol: false, symbol: "none", silent: true, smooth: 0.3,
    lineStyle: { width: 3 },
    markLine: {
      symbol: "none", silent: true, label: { show: false },
      data: [
        ...rsiLevels.map((v) => ({ yAxis: v, lineStyle: sepLine })),
        ...daySeparators.map((d) => ({ xAxis: d, lineStyle: sepLine })),
      ],
    },
  });
  const rsiFastIdx = series.length;
  series.push({ type: "line", xAxisIndex: 3, yAxisIndex: 2, data: rsiFast, showSymbol: false, symbol: "none", silent: true, lineStyle: { width: 2 } });
  // qqe
  series.push({
    type: "line", xAxisIndex: 4, yAxisIndex: 3, data: qqeSlow, showSymbol: false, symbol: "none", silent: true, smooth: 0.4,
    lineStyle: { color: RED, width: 2 },
    markLine: {
      symbol: "none", silent: true, label: { show: false },
      data: [
        ...qqeLevels.map((v) => ({ yAxis: v, lineStyle: { color: "#CC55CC", type: [3, 3], width: 1 } })),
        ...daySeparators.map((d) => ({ xAxis: d, lineStyle: sepLine })),
      ],
    },
  });
  series.push({ type: "line", xAxisIndex: 4, yAxisIndex: 3, data: qqeFast, showSymbol: false, symbol: "none", silent: true, smooth: 0.4, lineStyle: { color: BLUE, width: 2 } });
  // density
  series.push({
    type: "bar", xAxisIndex: 5, yAxisIndex: 4, barWidth: 3, silent: true,
    data: densityValues.map((v, i) => ({ value: v, itemStyle: { color: densityUp[i] ? "#008000" : "#FF0000" } })),
    markLine: {
      symbol: "none", silent: true, label: { show: false },
      data: [
        { yAxis: 50, lineStyle: { color: "#C8C8C8", type: [3, 3], width: 1 } },
        ...daySeparators.map((d) => ({ xAxis: String(d), lineStyle: sepLine })),
      ],
    },
  });
  // kiosotto
  series.push({
    type: "bar", xAxisIndex: 6, yAxisIndex: 5, barWidth: 4, barGap: "-100%", silent: true, data: kioMagenta, itemStyle: { color: "#FF00FF" },
    markLine: {
      symbol: "none", silent: true, label: { show: false },
      data: [
        { yAxis: 30, lineStyle: { color: "#C0C0C0", type: "solid", width: 1 } },
        ...daySeparators.map((d) => ({ xAxis: String(d), lineStyle: sepLine })),
      ],
    },
  });
  series.push({ type: "bar", xAxisIndex: 6, yAxisIndex: 5, barWidth: 4, barGap: "-100%", silent: true, data: cyanPerBar(), itemStyle: { color: "#00FFFF" } });

  const visualMap = [
    { type: "piecewise", show: false, dimension: 0, seriesIndex: thickIdx, pieces: pieces(thickTrend, BLUE, RED) },
    { type: "piecewise", show: false, dimension: 0, seriesIndex: rsiSlowIdx, pieces: pieces(rsiSlowTrend, BLUE, RED) },
    { type: "piecewise", show: false, dimension: 0, seriesIndex: rsiFastIdx, pieces: pieces(rsiFastTrend, BLUE, RED) },
  ];

  const txt = (x: number, y: number, text: string, extra: any = {}) => ({
    type: "text", x, y, silent: true,
    style: { text, fill: "#000", font: "11px 'Liberation Sans', Arial, sans-serif", verticalAlign: "middle", ...extra },
  });

  const graphic = [
    { type: "polygon", silent: true, shape: { points: [[7, 10], [14, 10], [10.5, 14]] }, style: { fill: "#000" } },
    txt(22, 12, "AUDJPY,M5"),
    { type: "rect", silent: true, shape: { x: 38.5, y: 38.5, width: 79, height: 21 }, style: { fill: "#5E5E5E", stroke: "#1A1A1A", lineWidth: 1 } },
    txt(78, 49.5, "C12-on", { fill: "#00FF00", font: "17px 'Liberation Sans', Arial, sans-serif", align: "center" }),
    { type: "rect", silent: true, shape: { x: 1801.5, y: 19.5, width: 37, height: 18 }, style: { fill: "#0000E6", stroke: "#FFFFFF", lineWidth: 1 } },
    txt(1820, 28.5, "Show", { fill: "#FFFFFF", font: "12px 'Liberation Sans', Arial, sans-serif", align: "center" }),
    txt(1802, 459, "Pips 0.0", { font: "bold 12px 'Liberation Sans', Arial, sans-serif" }),
    txt(1274, 122, "1.2", { fill: "#8C8C8C", font: "12px 'Liberation Sans', Arial, sans-serif" }),
    txt(1292, 134, "< 2:38 (1.2)", { fill: "#C8961E", font: "19px 'Liberation Sans', Arial, sans-serif" }),
    txt(7, 492, "ZigZagCallRepaintLegs(own version) 0.0000", { font: "10.5px 'Liberation Sans', Arial, sans-serif" }),
    txt(7, 569, "rsi div1: rsi Ma (8.00) 51.5887 51.5887 51.5887 56.2161 56.2161 59.4213"),
    txt(7, 657, "qqe div1: qqe of RSX (21,2) 52.5150 50.3149 56.0749 56.0749"),
    txt(7, 728, "Density_Histogram_ bionic chart"),
    txt(7, 797, "Kiosotto 2015 v4 Alert_Arrows[mobidik] AUDJPY Per=150 Lev=30 1.7414 0.5742"),
  ];

  return {
    animation: false,
    backgroundColor: BG,
    textStyle: { fontFamily: FONT },
    grid: grids,
    xAxis,
    yAxis,
    visualMap,
    series,
    graphic,
  };
}

export default function App() {
  const ref = useRef<HTMLDivElement>(null);
  useEffect(() => {
    const chart = echarts.init(ref.current!, null, { renderer: "svg" });
    chart.setOption(buildOption() as any);
    return () => chart.dispose();
  }, []);
  return <div ref={ref} style={{ position: "fixed", left: 0, top: 0, width: 1916, height: 874, background: BG }} />;
}
